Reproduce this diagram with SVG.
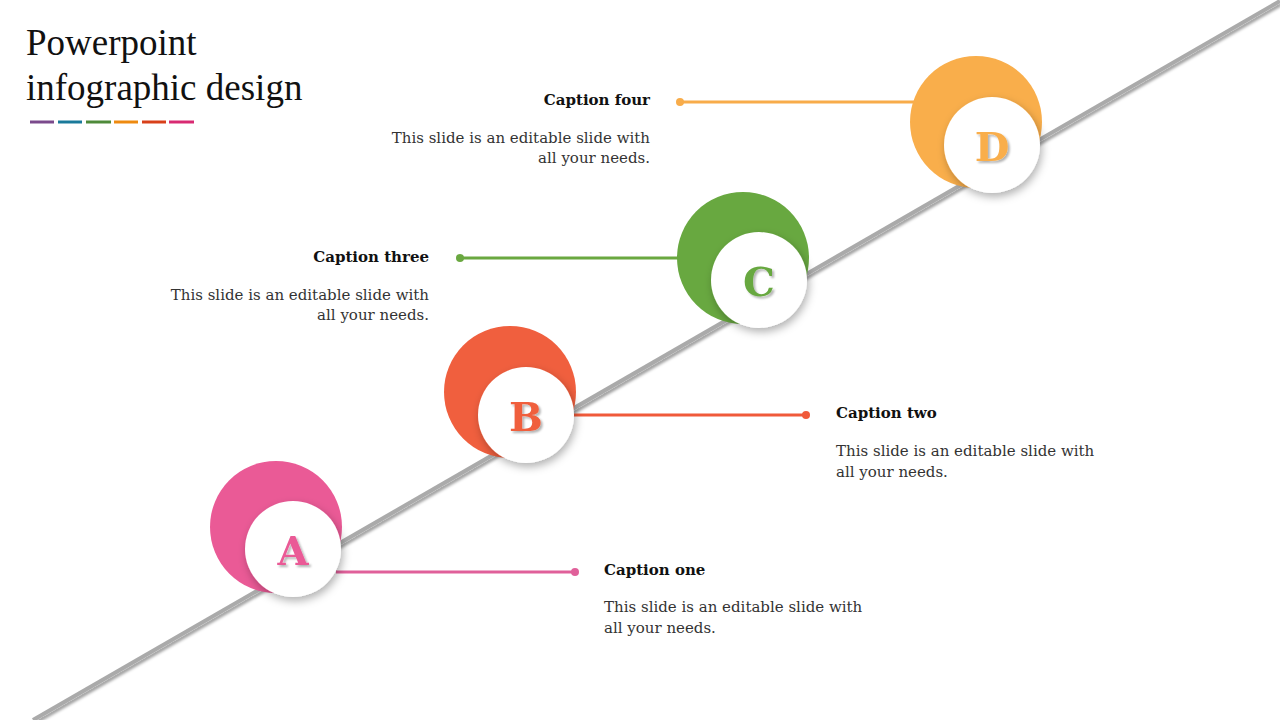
<svg xmlns="http://www.w3.org/2000/svg" width="1280" height="720" viewBox="0 0 1280 720">
<defs>
<filter id="sh" x="-30%" y="-30%" width="160%" height="160%"><feDropShadow dx="2" dy="4" stdDeviation="4" flood-color="#000" flood-opacity="0.3"/></filter>
<filter id="ts" x="-20%" y="-20%" width="140%" height="140%"><feDropShadow dx="2" dy="2" stdDeviation="1" flood-color="#000" flood-opacity="0.3"/></filter>
<filter id="ls"><feDropShadow dx="1" dy="3" stdDeviation="1.5" flood-color="#000" flood-opacity="0.4"/></filter>
</defs>
<style>
text{font-family:"DejaVu Serif","Liberation Serif",serif}
.cap{font-size:15px;font-weight:bold;fill:#111}
.body{font-size:15px;fill:#333}
.let{font-size:40px;font-weight:bold;text-anchor:middle}
</style>
<rect width="1280" height="720" fill="#fff"/>
<text x="26" y="55" style="font-family:'Liberation Serif',serif;font-size:37px" fill="#111">Powerpoint</text>
<text x="26" y="100" style="font-family:'Liberation Serif',serif;font-size:37px" fill="#111">infographic design</text>
<g stroke-width="3">
<line x1="30" y1="122" x2="54" y2="122" stroke="#7b4a8c"/>
<line x1="58" y1="122" x2="82" y2="122" stroke="#1a7a9a"/>
<line x1="86" y1="122" x2="111" y2="122" stroke="#4e8a3a"/>
<line x1="114" y1="122" x2="138" y2="122" stroke="#ee8a10"/>
<line x1="142" y1="122" x2="166" y2="122" stroke="#d8401a"/>
<line x1="169" y1="122" x2="194" y2="122" stroke="#d82a72"/>
</g>
<line x1="33" y1="720" x2="1280" y2="1" stroke="#aaa" stroke-width="4" filter="url(#ls)"/>
<g id="connectors" stroke-width="3">
<line x1="336" y1="572" x2="575" y2="572" stroke="#e0609a"/><circle cx="575" cy="572" r="4" fill="#e0609a"/>
<line x1="570" y1="415" x2="806" y2="415" stroke="#f05a3a"/><circle cx="806" cy="415" r="4" fill="#f05a3a"/>
<line x1="460" y1="258" x2="680" y2="258" stroke="#6aa840"/><circle cx="460" cy="258" r="4" fill="#6aa840"/>
<line x1="680" y1="102" x2="915" y2="102" stroke="#f8ac4a"/><circle cx="680" cy="102" r="4" fill="#f8ac4a"/>
</g>
<g id="nodeA">
<circle cx="276" cy="527" r="66" fill="#ea5a96"/>
<circle cx="293" cy="549" r="48" fill="#fff" filter="url(#sh)"/>
<text x="293" y="565" class="let" fill="#ea5a96" filter="url(#ts)">A</text>
</g>
<g id="nodeB">
<circle cx="510" cy="392" r="66" fill="#f05f3e"/>
<circle cx="526" cy="415" r="48" fill="#fff" filter="url(#sh)"/>
<text x="526" y="431" class="let" fill="#f05f3e" filter="url(#ts)">B</text>
</g>
<g id="nodeC">
<circle cx="743" cy="258" r="66" fill="#68a840"/>
<circle cx="759" cy="280" r="48" fill="#fff" filter="url(#sh)"/>
<text x="759" y="296" class="let" fill="#68a840" filter="url(#ts)">C</text>
</g>
<g id="nodeD">
<circle cx="976" cy="122" r="66" fill="#f9ae4b"/>
<circle cx="992" cy="145" r="48" fill="#fff" filter="url(#sh)"/>
<text x="992" y="161" class="let" fill="#f9ae4b" filter="url(#ts)">D</text>
</g>
<g id="textOne">
<text x="604" y="575" class="cap">Caption one</text>
<text x="604" y="612" class="body">This slide is an editable slide with</text>
<text x="604" y="633" class="body">all your needs.</text>
</g>
<g id="textTwo">
<text x="836" y="418" class="cap">Caption two</text>
<text x="836" y="456" class="body">This slide is an editable slide with</text>
<text x="836" y="477" class="body">all your needs.</text>
</g>
<g id="textThree" text-anchor="end">
<text x="429" y="262" class="cap">Caption three</text>
<text x="429" y="300" class="body">This slide is an editable slide with</text>
<text x="429" y="320" class="body">all your needs.</text>
</g>
<g id="textFour" text-anchor="end">
<text x="650" y="105" class="cap">Caption four</text>
<text x="650" y="143" class="body">This slide is an editable slide with</text>
<text x="650" y="163" class="body">all your needs.</text>
</g>
</svg>
